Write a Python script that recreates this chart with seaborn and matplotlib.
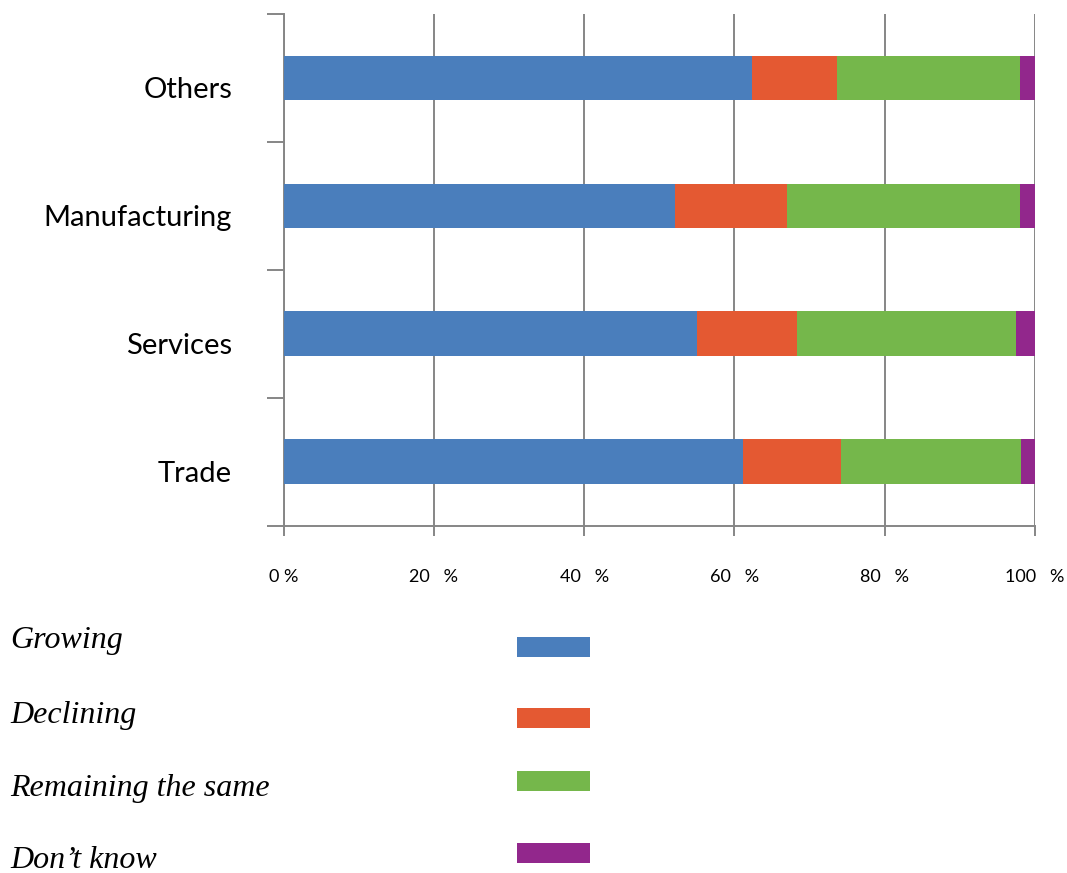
import matplotlib
matplotlib.use("Agg")
import matplotlib.pyplot as plt
import matplotlib.transforms as mtransforms
from matplotlib.patches import Rectangle
import seaborn as sns
import pandas as pd
import numpy as np

# ---- data ----
categories = ["Others", "Manufacturing", "Services", "Trade"]
series = ["Growing", "Declining", "Remaining the same", "Don\u2019t know"]
growing = [62.3, 52.1, 55.0, 61.2]
declining = [11.4, 14.9, 13.3, 13.0]
remaining = [24.3, 31.0, 29.2, 24.0]
dont_know = [2.0, 2.0, 2.5, 1.8]
x_ticks = [0, 20, 40, 60, 80, 100]
x_tick_labels = ["0 %", "20   %", "40   %", "60   %", "80   %", "100   %"]
colors = ["#4A7EBC", "#E45932", "#75B74B", "#92278C"]

sns.set_theme(style="white")
plt.rcParams["font.family"] = ["Lato", "DejaVu Sans"]

W, H = 1067, 873
fig = plt.figure(figsize=(W / 100, H / 100), dpi=100)
ax = fig.add_axes([283.5 / W, 1 - 525.7 / H, (1035 - 283.5) / W, (525.7 - 14) / H])

values = np.array([growing, declining, remaining, dont_know])
cum = np.cumsum(values, axis=0)
for i in range(len(series) - 1, -1, -1):
    df = pd.DataFrame({"category": categories, "value": cum[i]})
    sns.barplot(data=df, x="value", y="category", order=categories,
                color=colors[i], saturation=1, width=0.35,
                linewidth=0, edgecolor="none", ax=ax, zorder=3)

grey = "#868686"
ax.set_xlim(0, 100)
ax.set_ylim(len(categories) - 0.5, -0.5)
ax.set_xlabel("")
ax.set_ylabel("")

# grid
ax.xaxis.grid(True, color=grey, lw=1.4, zorder=0)
ax.yaxis.grid(False)
ax.set_axisbelow(True)

for s in ["top", "right"]:
    ax.spines[s].set_visible(False)
for s in ["left", "bottom"]:
    ax.spines[s].set_color(grey)
    ax.spines[s].set_linewidth(1.4)

# x ticks
ax.set_xticks(x_ticks)
ax.set_xticklabels(x_tick_labels)
ax.tick_params(axis="x", which="major", bottom=True, length=7, width=1.4,
               color=grey, direction="out", pad=24, labelsize=13,
               labelcolor="black")

# y ticks: boundary marks as major ticks, labels at category centres (minor)
n = len(categories)
ax.set_yticks([k - 0.5 for k in range(n + 1)])
ax.set_yticklabels([""] * (n + 1))
ax.tick_params(axis="y", which="major", left=True, length=12, width=1.4,
               color=grey, direction="out")
ax.set_yticks(list(range(n)), minor=True)
ax.set_yticklabels(categories, minor=True)
ax.tick_params(axis="y", which="minor", left=True, length=0, pad=37,
               labelsize=21, labelcolor="black")
offset = mtransforms.ScaledTranslation(0, -7 / 72, fig.dpi_scale_trans)
for lab in ax.get_yticklabels(minor=True):
    lab.set_transform(lab.get_transform() + offset)

# legend (manual, as in the reference layout)
text_baselines = [648, 723, 796, 868]
swatch_tops = [637, 708, 771, 843]
for name, col, yb, yt in zip(series, colors, text_baselines, swatch_tops):
    fig.text(10 / W, 1 - yb / H, name, family=["Liberation Serif", "DejaVu Serif"],
             style="italic", fontsize=23, va="baseline", ha="left", color="black")
    fig.add_artist(Rectangle((517 / W, 1 - (yt + 20) / H), 73 / W, 20 / H,
                             transform=fig.transFigure, facecolor=col,
                             edgecolor="none"))

fig.savefig("out.png", dpi=100)
